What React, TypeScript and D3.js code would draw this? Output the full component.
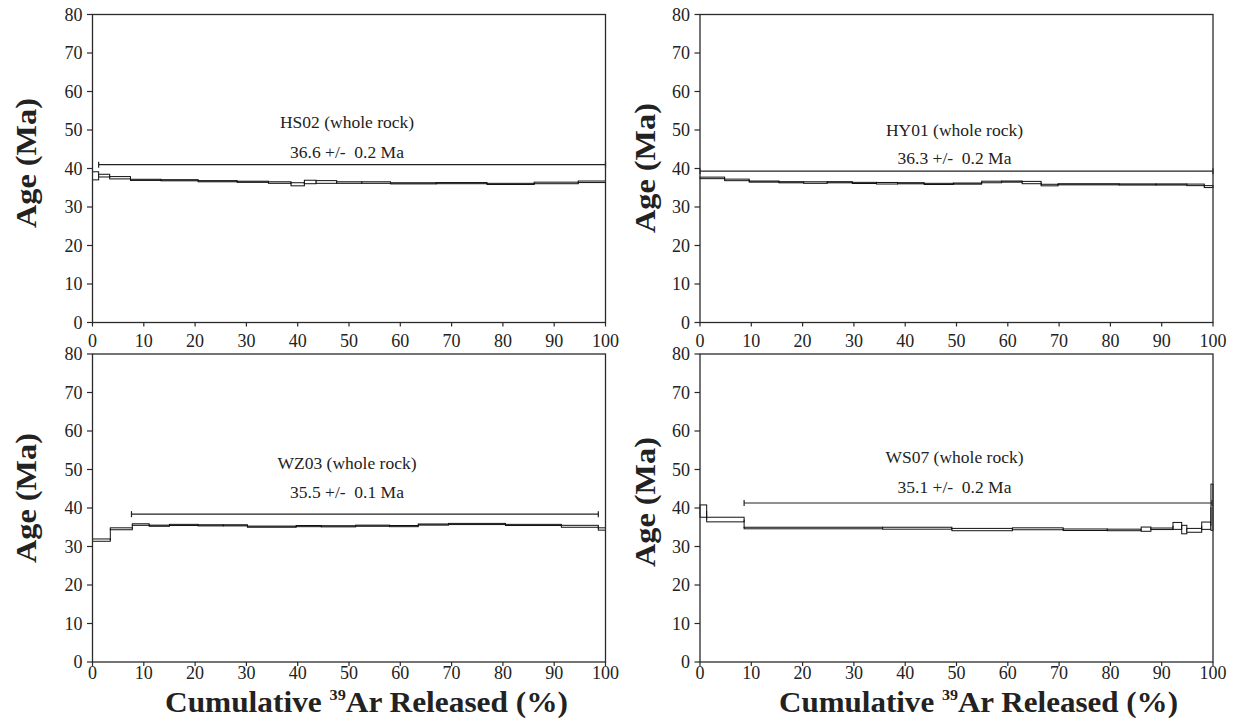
import React from 'react';
import * as d3 from 'd3';

// ---------- data ----------
const xTicks = [0, 10, 20, 30, 40, 50, 60, 70, 80, 90, 100];
const yTicks = [0, 10, 20, 30, 40, 50, 60, 70, 80];

// HS02 (whole rock)
const hs02Cum = [0, 1.2, 3.35, 7.4, 13.35, 20.6, 28.2, 34.3, 38.7, 41.3, 43.6, 47.6, 52.5, 58.1, 67.0, 76.9, 86.1, 94.7, 100];
const hs02Age = [38.1, 38.15, 37.6, 37.05, 36.95, 36.7, 36.55, 36.35, 35.9, 36.5, 36.5, 36.35, 36.35, 36.15, 36.2, 36.0, 36.25, 36.55];
const hs02Err = [1.05, 0.35, 0.3, 0.15, 0.15, 0.15, 0.15, 0.2, 0.4, 0.45, 0.35, 0.2, 0.2, 0.15, 0.15, 0.15, 0.2, 0.2];
const hs02Plateau = [1.2, 100, 41.0];

// HY01 (whole rock)
const hy01Cum = [0, 4.8, 9.6, 15.4, 20.2, 24.8, 29.7, 34.4, 38.5, 43.7, 49.4, 54.9, 58.8, 62.8, 66.5, 69.8, 81.7, 88.9, 94.9, 98.3, 100];
const hy01Age = [37.56, 37.04, 36.6, 36.43, 36.35, 36.43, 36.25, 36.17, 36.17, 36.0, 36.08, 36.5, 36.6, 36.35, 35.7, 35.9, 35.85, 35.85, 35.75, 35.3];
const hy01Err = [0.2, 0.2, 0.15, 0.15, 0.2, 0.15, 0.15, 0.2, 0.15, 0.15, 0.15, 0.2, 0.15, 0.3, 0.2, 0.15, 0.15, 0.15, 0.2, 0.25];
const hy01Plateau = [0, 100, 39.3];

// WZ03 (whole rock)
const wz03Cum = [0, 3.47, 7.76, 11.05, 15.0, 20.6, 25.5, 30.2, 39.7, 44.6, 51.3, 57.9, 63.5, 69.4, 80.5, 91.4, 98.6, 100];
const wz03Age = [31.66, 34.6, 35.7, 35.4, 35.6, 35.5, 35.5, 35.15, 35.3, 35.25, 35.4, 35.3, 35.7, 35.85, 35.6, 35.25, 34.55];
const wz03Err = [0.3, 0.25, 0.2, 0.15, 0.15, 0.15, 0.15, 0.15, 0.15, 0.15, 0.15, 0.15, 0.15, 0.15, 0.15, 0.25, 0.3];
const wz03Plateau = [7.6, 98.6, 38.4];

// WS07 (whole rock)
const ws07Cum = [0, 1.3, 8.6, 35.6, 49.1, 60.9, 70.8, 79.4, 86.0, 87.9, 92.2, 93.9, 94.9, 97.8, 99.6, 100];
const ws07Age = [39.2, 37.0, 34.8, 34.75, 34.4, 34.6, 34.35, 34.3, 34.5, 34.6, 35.35, 34.4, 34.2, 35.4, 40.2];
const ws07Err = [1.6, 0.6, 0.2, 0.25, 0.3, 0.25, 0.2, 0.2, 0.55, 0.2, 0.9, 1.1, 0.5, 0.95, 6.0];
const ws07Plateau = [8.6, 99.8, 41.3];

const sampleLabels = ['HS02 (whole rock)', 'HY01 (whole rock)', 'WZ03 (whole rock)', 'WS07 (whole rock)'];
const plateauLabels = ['36.6 +/-  0.2 Ma', '36.3 +/-  0.2 Ma', '35.5 +/-  0.1 Ma', '35.1 +/-  0.2 Ma'];

// ---------- layout ----------
const FONT = '"Liberation Serif", "Times New Roman", Times, serif';
const AXIS = '#2a2a2a';

type PanelProps = {
  left: number; right: number; top: number; bottom: number;
  cum: number[]; ages: number[]; errs: number[]; plateau: number[];
  label: string; ageText: string; labelY: number; ageY: number; tickLabelDy: number;
};

function Panel(p: PanelProps) {
  const x = d3.scaleLinear().domain([0, 100]).range([p.left, p.right]);
  const y = d3.scaleLinear().domain([0, 80]).range([p.bottom, p.top]);
  const cx = (p.left + p.right) / 2 - 2;
  const connectors = p.ages.slice(0, -1).map((a, i) => ({
    x: x(p.cum[i + 1]), y1: y(a), y2: y(p.ages[i + 1]),
  }));
  const [px0, px1, pAge] = p.plateau;
  return (
    <g>
      {/* spectrum boxes */}
      {p.ages.map((a, i) => (
        <rect key={'b' + i}
          x={x(p.cum[i])} width={x(p.cum[i + 1]) - x(p.cum[i])}
          y={y(a + p.errs[i])} height={y(a - p.errs[i]) - y(a + p.errs[i])}
          fill="#fff" stroke="#111" strokeWidth={1} />
      ))}
      {connectors.map((c, i) => (
        <line key={'c' + i} x1={c.x} x2={c.x} y1={c.y1} y2={c.y2} stroke="#111" strokeWidth={1} />
      ))}
      {/* plateau bar */}
      <line x1={x(px0)} x2={x(px1)} y1={y(pAge)} y2={y(pAge)} stroke="#222" strokeWidth={1.2} />
      <line x1={x(px0)} x2={x(px0)} y1={y(pAge) - 3} y2={y(pAge) + 3} stroke="#222" strokeWidth={1.2} />
      <line x1={x(px1)} x2={x(px1)} y1={y(pAge) - 3} y2={y(pAge) + 3} stroke="#222" strokeWidth={1.2} />
      {/* labels */}
      <text x={cx} y={p.labelY} textAnchor="middle" dominantBaseline="central"
        fontFamily={FONT} fontSize={17.5} fill="#222" style={{ whiteSpace: 'pre' }}>{p.label}</text>
      <text x={cx} y={p.ageY} textAnchor="middle" dominantBaseline="central"
        fontFamily={FONT} fontSize={17.5} fill="#222" style={{ whiteSpace: 'pre' }}>{p.ageText}</text>
      {/* frame */}
      <rect x={p.left} y={p.top} width={p.right - p.left} height={p.bottom - p.top}
        fill="none" stroke={AXIS} strokeWidth={1.3} />
      {/* y ticks */}
      {yTicks.map(t => (
        <g key={'y' + t}>
          <line x1={p.left - 5.5} x2={p.left} y1={y(t)} y2={y(t)} stroke={AXIS} strokeWidth={1.2} />
          <text x={p.left - 10} y={y(t)} textAnchor="end" dominantBaseline="central"
            fontFamily={FONT} fontSize={18} fill="#222">{t}</text>
        </g>
      ))}
      {/* x ticks */}
      {xTicks.map(t => (
        <g key={'x' + t}>
          <line x1={x(t)} x2={x(t)} y1={p.bottom} y2={p.bottom + 4} stroke={AXIS} strokeWidth={1.2} />
          <text x={x(t)} y={p.bottom + p.tickLabelDy} textAnchor="middle"
            fontFamily={FONT} fontSize={18} fill="#222">{t}</text>
        </g>
      ))}
    </g>
  );
}

function AgeTitle({ cx, cy }: { cx: number; cy: number }) {
  return (
    <text transform={`translate(${cx},${cy}) rotate(-90)`} textAnchor="middle"
      fontFamily={FONT} fontWeight="bold" fontSize={30} fill="#222"
      textLength={130} lengthAdjust="spacingAndGlyphs">Age (Ma)</text>
  );
}

function XTitle({ x0, x1, y }: { x0: number; x1: number; y: number }) {
  return (
    <text x={x0} y={y} fontFamily={FONT} fontWeight="bold" fontSize={29} fill="#222"
      textLength={x1 - x0} lengthAdjust="spacingAndGlyphs">
      Cumulative <tspan fontSize={15} dy={-12}>39</tspan><tspan dy={12}>Ar Released (%)</tspan>
    </text>
  );
}

export default function App() {
  const L = { left: 92.5, right: 605.5 };
  const R = { left: 700, right: 1213 };
  const T = { top: 14.5, bottom: 322.5 };
  const B = { top: 354, bottom: 662 };
  const yT = d3.scaleLinear().domain([0, 80]).range([T.bottom, T.top]);
  const yB = d3.scaleLinear().domain([0, 80]).range([B.bottom, B.top]);
  return (
    <svg width={1233} height={724} style={{ position: 'absolute', left: 0, top: 0, background: '#fff' }}>
      <rect width={1233} height={724} fill="#fff" />
      <Panel {...L} {...T} cum={hs02Cum} ages={hs02Age} errs={hs02Err} plateau={hs02Plateau}
        label={sampleLabels[0]} ageText={plateauLabels[0]} labelY={122} ageY={152} tickLabelDy={24} />
      <Panel {...R} {...T} cum={hy01Cum} ages={hy01Age} errs={hy01Err} plateau={hy01Plateau}
        label={sampleLabels[1]} ageText={plateauLabels[1]} labelY={130} ageY={158} tickLabelDy={24} />
      <Panel {...L} {...B} cum={wz03Cum} ages={wz03Age} errs={wz03Err} plateau={wz03Plateau}
        label={sampleLabels[2]} ageText={plateauLabels[2]} labelY={463} ageY={492} tickLabelDy={17} />
      <Panel {...R} {...B} cum={ws07Cum} ages={ws07Age} errs={ws07Err} plateau={ws07Plateau}
        label={sampleLabels[3]} ageText={plateauLabels[3]} labelY={457} ageY={487} tickLabelDy={17} />
      <AgeTitle cx={36} cy={163} />
      <AgeTitle cx={36} cy={498} />
      <AgeTitle cx={655} cy={168} />
      <AgeTitle cx={655} cy={502} />
      <XTitle x0={165} x1={568} y={712} />
      <XTitle x0={779} x1={1178} y={712} />
    </svg>
  );
}
